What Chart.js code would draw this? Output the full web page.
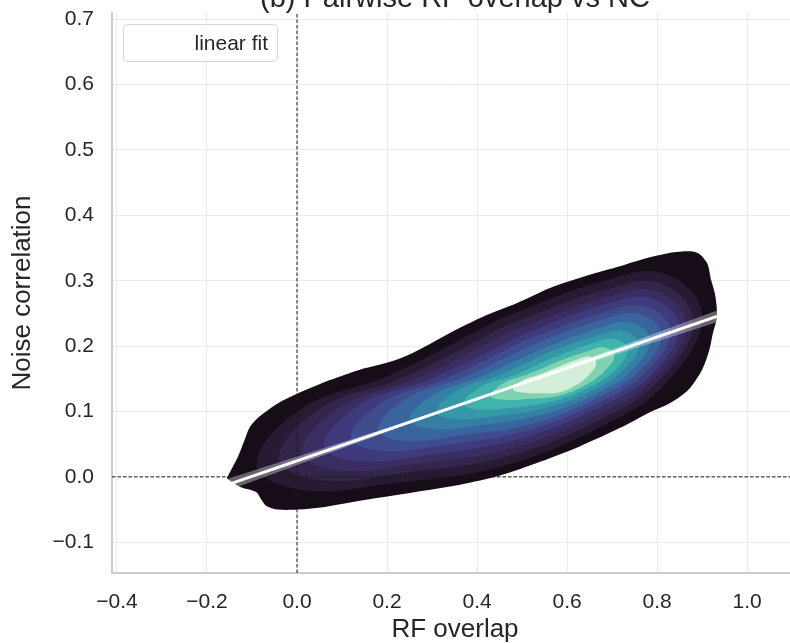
<!DOCTYPE html>
<html>
<head>
<meta charset="utf-8">
<title>Pairwise RF overlap vs NC</title>
<script src="https://cdn.jsdelivr.net/npm/chart.js@4.4.1/dist/chart.umd.min.js"></script>
<style>
  html, body { margin: 0; padding: 0; background: #fff; }
  #frame { position: relative; width: 790px; height: 643px; overflow: hidden; background: #fff; }
  #plot { position: absolute; left: 0; top: 0; width: 910px; height: 643px; }
  .fig-title {
    position: absolute; left: 0; top: -17px; width: 910px; text-align: center;
    font: 29px/29px "Liberation Sans", Arial, sans-serif; color: #262626; white-space: nowrap;
  }
  .legend-box {
    position: absolute; left: 123px; top: 24px; width: 155px; height: 38px;
    box-sizing: border-box; border: 1px solid #d5d5d5; border-radius: 5px;
    background: rgba(255, 255, 255, 0.8);
    font: 21px "Liberation Sans", Arial, sans-serif; color: #262626;
  }
  .legend-box .swatch { position: absolute; left: 12px; top: 17px; width: 40px; height: 3px; background: #fff; }
  .legend-box .label { position: absolute; right: 9px; top: 0; line-height: 36px; }
</style>
</head>
<body>
<div id="frame">
  <div id="plot"><canvas id="kde-chart" width="910" height="643"></canvas></div>
  <div class="fig-title">(b) Pairwise RF overlap vs NC</div>
  <div class="legend-box"><span class="swatch"></span><span class="label">linear fit</span></div>
</div>
<script>
// --- axes ---
var xRange = [-0.411, 1.113];
var yRange = [-0.147, 0.7095];
var xTicks = [-0.4, -0.2, 0.0, 0.2, 0.4, 0.6, 0.8, 1.0];
var xTickLabels = ['\u22120.4', '\u22120.2', '0.0', '0.2', '0.4', '0.6', '0.8', '1.0'];
var yTicks = [-0.1, 0.0, 0.1, 0.2, 0.3, 0.4, 0.5, 0.6, 0.7];
var yTickLabels = ['\u22120.1', '0.0', '0.1', '0.2', '0.3', '0.4', '0.5', '0.6', '0.7'];

// --- regression line and its confidence band ---
var fitLine = [[-0.152, -0.0115], [0.933, 0.2456]];
var fitBandX = [-0.152, 0.25, 0.55, 0.933];
var fitBandUpper = [-0.0025, 0.0858, 0.1569, 0.2546];
var fitBandLower = [-0.0205, 0.0818, 0.1529, 0.2366];

// --- KDE iso-density outlines, outermost first: [RF overlap, noise corr] ---
var kdeLevel0 = [
  [-0.156, -0.002], [-0.131, 0.031], [-0.116, 0.057], [-0.104, 0.077], [-0.082, 0.093],
  [-0.044, 0.112], [0.0, 0.127], [0.073, 0.148], [0.14, 0.164], [0.207, 0.176],
  [0.258, 0.190], [0.307, 0.208], [0.362, 0.228], [0.413, 0.245], [0.489, 0.266],
  [0.562, 0.289], [0.636, 0.306], [0.711, 0.321], [0.784, 0.336], [0.844, 0.344],
  [0.889, 0.343], [0.911, 0.327], [0.920, 0.301], [0.929, 0.278], [0.933, 0.245],
  [0.924, 0.220], [0.916, 0.194], [0.900, 0.164], [0.869, 0.133], [0.829, 0.113],
  [0.784, 0.099], [0.718, 0.075], [0.629, 0.047], [0.540, 0.023], [0.451, 0.002],
  [0.362, -0.012], [0.284, -0.021], [0.211, -0.029], [0.136, -0.037], [0.062, -0.046],
  [0.002, -0.050], [-0.042, -0.050], [-0.069, -0.044], [-0.080, -0.034], [-0.091, -0.023],
  [-0.127, -0.015], [-0.156, -0.002]
];
var kdeLevel1 = [[0.4545, 0.243], [0.682, 0.300], [0.821, 0.310], [0.90, 0.246], [0.821, 0.144], [0.682, 0.079], [0.4545, 0.016], [0.207, -0.010], [0.009, -0.020], [-0.09, 0.019], [0.009, 0.104], [0.207, 0.156], [0.4545, 0.243]];
var kdeLevel2 = [[0.466, 0.232], [0.678, 0.285], [0.806, 0.296], [0.88, 0.239], [0.806, 0.148], [0.678, 0.089], [0.466, 0.031], [0.236, 0.006], [0.052, -0.005], [-0.04, 0.028], [0.052, 0.105], [0.236, 0.152], [0.466, 0.232]];
var kdeLevel3 = [[0.480, 0.224], [0.677, 0.273], [0.797, 0.284], [0.865, 0.234], [0.797, 0.152], [0.677, 0.098], [0.480, 0.044], [0.267, 0.020], [0.096, 0.010], [0.01, 0.038], [0.096, 0.107], [0.267, 0.151], [0.480, 0.224]];
var kdeLevel4 = [[0.505, 0.219], [0.676, 0.262], [0.787, 0.273], [0.85, 0.230], [0.787, 0.156], [0.676, 0.108], [0.505, 0.060], [0.297, 0.034], [0.139, 0.024], [0.06, 0.048], [0.139, 0.110], [0.297, 0.150], [0.505, 0.219]];
var kdeLevel5 = [[0.511, 0.210], [0.674, 0.250], [0.773, 0.261], [0.83, 0.223], [0.773, 0.159], [0.674, 0.115], [0.511, 0.071], [0.333, 0.049], [0.191, 0.040], [0.12, 0.060], [0.191, 0.115], [0.333, 0.151], [0.511, 0.210]];
var kdeLevel6 = [[0.527, 0.203], [0.671, 0.239], [0.760, 0.249], [0.81, 0.217], [0.760, 0.161], [0.671, 0.122], [0.527, 0.082], [0.369, 0.064], [0.243, 0.055], [0.18, 0.073], [0.243, 0.120], [0.369, 0.152], [0.527, 0.203]];
var kdeLevel7 = [[0.544, 0.196], [0.667, 0.227], [0.742, 0.236], [0.785, 0.209], [0.742, 0.162], [0.667, 0.128], [0.544, 0.095], [0.411, 0.079], [0.304, 0.073], [0.25, 0.087], [0.304, 0.126], [0.411, 0.154], [0.544, 0.196]];
var kdeLevel8 = [[0.558, 0.190], [0.661, 0.215], [0.724, 0.223], [0.76, 0.202], [0.724, 0.163], [0.661, 0.134], [0.558, 0.106], [0.445, 0.093], [0.355, 0.088], [0.31, 0.099], [0.355, 0.132], [0.445, 0.155], [0.558, 0.190]];
var kdeLevel9 = [[0.571, 0.183], [0.655, 0.204], [0.706, 0.211], [0.735, 0.194], [0.706, 0.163], [0.655, 0.139], [0.571, 0.116], [0.480, 0.106], [0.407, 0.103], [0.37, 0.112], [0.407, 0.137], [0.480, 0.155], [0.571, 0.183]];
var kdeLevel10 = [[0.581, 0.177], [0.645, 0.192], [0.683, 0.198], [0.705, 0.185], [0.683, 0.162], [0.645, 0.142], [0.581, 0.124], [0.513, 0.119], [0.458, 0.118], [0.43, 0.124], [0.458, 0.143], [0.513, 0.157], [0.581, 0.177]];
var kdeLevel11 = [[0.582, 0.169], [0.624, 0.180], [0.650, 0.184], [0.665, 0.174], [0.650, 0.157], [0.624, 0.142], [0.582, 0.129], [0.536, 0.128], [0.499, 0.129], [0.48, 0.134], [0.499, 0.147], [0.536, 0.156], [0.582, 0.169]];

var kdeLevels = [kdeLevel0, kdeLevel1, kdeLevel2, kdeLevel3, kdeLevel4, kdeLevel5,
  kdeLevel6, kdeLevel7, kdeLevel8, kdeLevel9, kdeLevel10, kdeLevel11];

// mako-like ramp, dark outside to light at the peak
var makoRamp = ['#170d18', '#271b33', '#33254b', '#3a2d62', '#3e3a7b', '#3f4d8f',
  '#3a649d', '#357ea4', '#3598a9', '#40b3ad', '#7fd3b3', '#d3efd9'];

var FONT = '"Liberation Sans", Arial, sans-serif';
var INK = '#262626';

function toPoints(pairs) {
  return pairs.map(function (p) { return { x: p[0], y: p[1] }; });
}

function zip(xs, ys) {
  return xs.map(function (x, i) { return { x: x, y: ys[i] }; });
}

var datasets = [];

// fit line on top, then band, then the zero guides, contours underneath
datasets.push({
  label: 'linear fit',
  data: toPoints(fitLine),
  showLine: true,
  borderColor: '#ffffff',
  borderWidth: 3,
  pointRadius: 0,
  fill: false,
  order: 1
});
datasets.push({
  label: 'ci-upper',
  data: zip(fitBandX, fitBandUpper),
  showLine: true,
  borderWidth: 0,
  borderColor: 'rgba(255,255,255,0)',
  backgroundColor: 'rgba(255,255,255,0.35)',
  pointRadius: 0,
  fill: '+1',
  order: 2
});
datasets.push({
  label: 'ci-lower',
  data: zip(fitBandX, fitBandLower),
  showLine: true,
  borderWidth: 0,
  borderColor: 'rgba(255,255,255,0)',
  pointRadius: 0,
  fill: false,
  order: 3
});
datasets.push({
  label: 'x=0',
  data: [{ x: 0, y: yRange[0] }, { x: 0, y: yRange[1] }],
  showLine: true,
  borderColor: '#1a1a1a',
  borderWidth: 1,
  borderDash: [3.5, 2],
  pointRadius: 0,
  fill: false,
  order: 4
});
datasets.push({
  label: 'y=0',
  data: [{ x: xRange[0], y: 0 }, { x: xRange[1], y: 0 }],
  showLine: true,
  borderColor: '#1a1a1a',
  borderWidth: 1,
  borderDash: [3.5, 2],
  pointRadius: 0,
  fill: false,
  order: 5
});

for (var k = 0; k < kdeLevels.length; k++) {
  datasets.push({
    label: 'kde-' + k,
    data: toPoints(kdeLevels[k]),
    showLine: true,
    tension: k === 0 ? 0.3 : 0.4,
    borderWidth: 0,
    borderColor: makoRamp[k],
    backgroundColor: makoRamp[k],
    pointRadius: 0,
    fill: 'shape',
    order: 100 - k
  });
}

new Chart(document.getElementById('kde-chart'), {
  type: 'scatter',
  data: { datasets: datasets },
  options: {
    responsive: false,
    animation: false,
    events: [],
    layout: { padding: { top: 13, right: 112, bottom: 0, left: 0 } },
    plugins: {
      legend: { display: false },
      tooltip: { enabled: false },
      title: { display: false }
    },
    scales: {
      x: {
        type: 'linear',
        min: xRange[0],
        max: xRange[1],
        afterFit: function (scale) { scale.height = 70; },
        afterBuildTicks: function (scale) {
          scale.ticks = xTicks.map(function (v) { return { value: v }; });
        },
        ticks: {
          autoSkip: false,
          maxRotation: 0,
          padding: 17,
          color: INK,
          font: { family: FONT, size: 21 },
          callback: function (v, i) { return xTickLabels[i]; }
        },
        grid: { color: '#ebebeb', lineWidth: 1, drawTicks: false },
        border: { display: true, color: '#cccccc', width: 2 },
        title: {
          display: true,
          text: 'RF overlap',
          color: INK,
          font: { family: FONT, size: 26, lineHeight: 1 },
          padding: { top: 0, bottom: 0 }
        }
      },
      y: {
        type: 'linear',
        min: yRange[0],
        max: yRange[1],
        afterFit: function (scale) { scale.width = 112; },
        afterBuildTicks: function (scale) {
          scale.ticks = yTicks.map(function (v) { return { value: v }; });
        },
        ticks: {
          autoSkip: false,
          padding: 0,
          color: INK,
          font: { family: FONT, size: 21 },
          callback: function (v, i) { return yTickLabels[i]; }
        },
        // invisible tick marks keep the labels off the spine
        grid: { color: '#ebebeb', lineWidth: 1, drawTicks: true, tickLength: 18, tickColor: 'rgba(0,0,0,0)' },
        border: { display: true, color: '#cccccc', width: 2 },
        title: {
          display: true,
          text: 'Noise correlation',
          color: INK,
          font: { family: FONT, size: 26 },
          padding: { top: 7, bottom: 0 }
        }
      }
    }
  }
});
</script>
</body>
</html>
